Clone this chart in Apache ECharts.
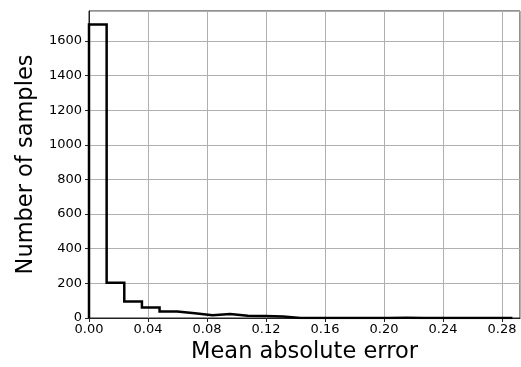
<!DOCTYPE html>
<html><head><meta charset="utf-8">
<script src="https://cdn.jsdelivr.net/npm/echarts@6/dist/echarts.min.js"></script>
<style>html,body{margin:0;padding:0;background:#fff}#c{width:521px;height:367px}</style>
</head><body><div id="c"></div>
<script>
const binWidth = 0.01196;
const counts = [1695, 204, 95, 60, 38, 27, 16, 23, 13, 11, 9, 0, 0, 0, 0, 0, 0, 1, 0, 0, 0, 0, 0, 0];
const xTicks = [0, 0.04, 0.08, 0.12, 0.16, 0.20, 0.24, 0.28];
const yTicks = [0, 200, 400, 600, 800, 1000, 1200, 1400, 1600];
const xMax = 0.2922, yMax = 1773;

const pts = [[0, 0]];
counts.forEach((c, i) => { pts.push([i * binWidth, c]); pts.push([(i + 1) * binWidth, c]); });
pts.push([counts.length * binWidth, 0]);

const font = 'DejaVu Sans';
const chart = echarts.init(document.getElementById('c'), null, {renderer: 'canvas'});
chart.setOption({
  animation: false,
  grid: {left: 89, right: 1, top: 11, bottom: 49, containLabel: false, outerBoundsMode: 'none',
    show: true, borderColor: '#222', borderWidth: 1, backgroundColor: 'transparent'},
  xAxis: {
    type: 'value', min: 0, max: xMax, interval: 0.04,
    name: 'Mean absolute error', nameLocation: 'middle', nameGap: 22,
    nameTextStyle: {fontFamily: font, fontSize: 22.5, color: '#000'},
    axisLine: {show: true, lineStyle: {color: '#222', width: 1.2}},
    axisTick: {show: true, length: 4, lineStyle: {color: '#222'}},
    axisLabel: {fontFamily: font, fontSize: 13, color: '#000', margin: 5, showMaxLabel: false,
      formatter: v => xTicks.some(t => Math.abs(t - v) < 1e-9) ? v.toFixed(2) : ''},
    splitLine: {show: true, lineStyle: {color: '#b0b0b0', width: 1}}
  },
  yAxis: {
    type: 'value', min: 0, max: yMax, interval: 200,
    name: 'Number of samples', nameLocation: 'middle', nameGap: 50,
    nameTextStyle: {fontFamily: font, fontSize: 22.5, color: '#000'},
    axisLine: {show: true, lineStyle: {color: '#222', width: 1}},
    axisTick: {show: true, length: 4, lineStyle: {color: '#222'}},
    axisLabel: {fontFamily: font, fontSize: 13, color: '#000', margin: 7, showMaxLabel: false,
      formatter: v => yTicks.indexOf(v) >= 0 ? String(v) : ''},
    splitLine: {show: true, lineStyle: {color: '#b0b0b0', width: 1}}
  },
  series: [{
    type: 'line', data: pts, showSymbol: false, symbol: 'none',
    lineStyle: {color: '#000', width: 2.5, join: 'miter'}, z: 5
  }]
});
</script></body></html>
